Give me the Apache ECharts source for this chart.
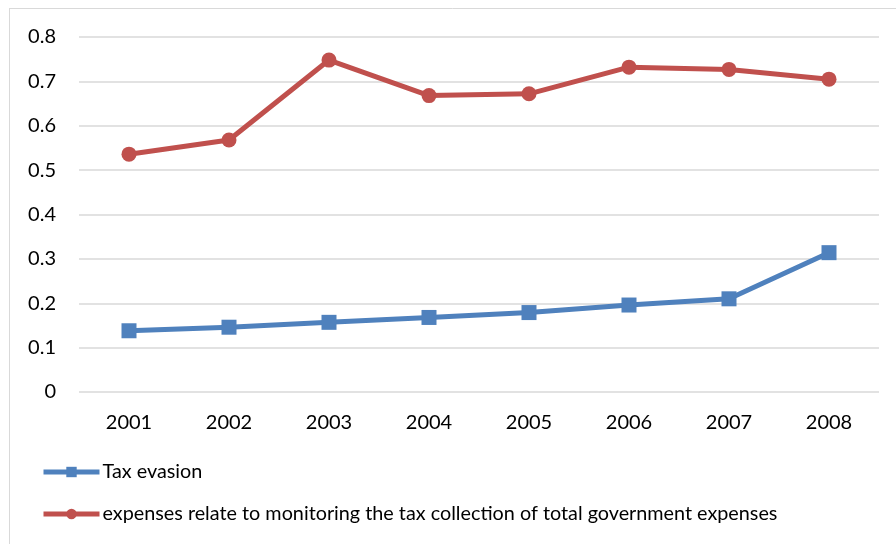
<!DOCTYPE html>
<html>
<head>
<meta charset="utf-8">
<script src="https://cdn.jsdelivr.net/npm/echarts@6/dist/echarts.min.js"></script>
<style>html,body{margin:0;padding:0;background:#fff;}#c{width:896px;height:544px;}</style>
</head>
<body>
<div id="c"></div>
<script>
var years = ['2001','2002','2003','2004','2005','2006','2007','2008'];
var taxEvasion = [0.138, 0.146, 0.157, 0.168, 0.179, 0.196, 0.210, 0.314];
var monitoringExpenses = [0.536, 0.568, 0.748, 0.668, 0.672, 0.732, 0.727, 0.705];
var yTicks = [0, 0.1, 0.2, 0.3, 0.4, 0.5, 0.6, 0.7, 0.8];
var nameTax = 'Tax evasion';
var nameExp = 'expenses relate to monitoring the tax collection of total government expenses';

var FONT = 'Lato';
var chart = echarts.init(document.getElementById('c'), null, {renderer: 'canvas'});
chart.setOption({
  animation: false,
  backgroundColor: '#fff',
  textStyle: {fontFamily: FONT},
  grid: {left: 79, right: 17, top: 37, bottom: 152, containLabel: false},
  graphic: [
    {type: 'line', shape: {x1: 9, y1: 8.5, x2: 896, y2: 8.5}, style: {stroke: '#d9d9d9', lineWidth: 1}},
    {type: 'line', shape: {x1: 9.5, y1: 8, x2: 9.5, y2: 544}, style: {stroke: '#d9d9d9', lineWidth: 1}}
  ],
  xAxis: {
    type: 'category',
    data: years,
    boundaryGap: true,
    axisLine: {show: false},
    axisTick: {show: false},
    axisLabel: {color: '#000', fontSize: 20, fontFamily: FONT, margin: 21}
  },
  yAxis: {
    type: 'value',
    min: 0,
    max: 0.8,
    interval: 0.1,
    axisLine: {show: false},
    axisTick: {show: false},
    splitLine: {lineStyle: {color: '#d9d9d9', width: 1.5}},
    axisLabel: {
      color: '#000', fontSize: 20, fontFamily: FONT, margin: 23,
      formatter: function (v) {
        for (var i = 0; i < yTicks.length; i++) { if (Math.abs(yTicks[i] - v) < 1e-6) return String(yTicks[i]); }
        return '';
      }
    }
  },
  legend: {
    orient: 'vertical',
    left: 36,
    top: 457,
    itemWidth: 56,
    itemHeight: 13,
    itemGap: 22,
    data: [nameTax, nameExp],
    lineStyle: {width: 5},
    textStyle: {color: '#000', fontSize: 19.8, fontFamily: FONT, padding: [0, 0, 0, -2]}
  },
  series: [
    {
      name: nameTax,
      type: 'line',
      data: taxEvasion,
      color: '#4F81BD',
      symbol: 'rect',
      symbolSize: 15,
      lineStyle: {width: 5, color: '#4F81BD'},
      itemStyle: {color: '#4F81BD'}
    },
    {
      name: nameExp,
      type: 'line',
      data: monitoringExpenses,
      color: '#C0504D',
      symbol: 'circle',
      symbolSize: 15,
      lineStyle: {width: 5, color: '#C0504D'},
      itemStyle: {color: '#C0504D'}
    }
  ]
});
</script>
</body>
</html>
